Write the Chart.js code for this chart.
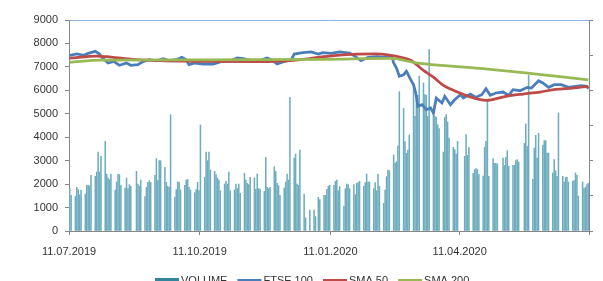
<!DOCTYPE html>
<html>
<head>
<meta charset="utf-8">
<script src="https://cdn.jsdelivr.net/npm/chart.js@4.4.1/dist/chart.umd.min.js"></script>
<style>
html,body{margin:0;padding:0;background:#fff;overflow:hidden}
#wrap{width:603px;height:300px}
</style>
</head>
<body>
<div id="wrap"><canvas id="c" width="603" height="300"></canvas></div>
<script>
'use strict';
// ── DATA ──────────────────────────────────────────────────────
// trading days from 11.07.2019 (day 0) to 10.07.2020, weekends + LSE holidays skipped
const HOLIDAYS = ['2019-08-26','2019-12-25','2019-12-26','2020-01-01','2020-04-10','2020-04-13','2020-05-08','2020-05-25'];

// one value per trading day, one row per week
const volume = [
  1806,1521,
  1479,1863,1763,1550,1749,
  1578,1948,1948,1920,2375,
  2332,2517,3370,2517,3185,
  3825,2432,2261,2190,2432,
  1749,2090,2432,2403,1948,
  1834,2261,1806,1977,1906,
  2545,2005,1906,2176,
  1465,1863,2076,2147,2076,
  2375,3086,2147,3000,3000,
  2716,2076,1906,1863,4963,
  1450,1763,2090,2090,1749,
  1948,2176,2204,1863,1749,
  1635,1763,2076,1720,4520,
  2290,3370,3000,3370,2602,
  2545,2403,2261,2176,1720,
  2005,2119,2005,2517,1720,
  1749,2005,1806,2005,1607,
  2460,2176,2033,1977,2290,
  2261,1777,2432,1806,1777,
  1692,3143,1863,1806,1863,
  2744,2545,2033,1934,1521,
  1834,2090,2432,2176,5702,
  3114,3285,2005,1948,3455,
  1578,555,896,
  896,611,1436,1337,
  1521,1521,1777,1906,1948,
  1948,2119,2176,1720,1891,
  1052,1806,2005,1977,1806,
  1977,1550,2033,2062,2119,
  1906,2062,2432,2090,2090,
  1806,2062,1720,2432,1906,
  1180,1750,2318,2600,2574,
  3242,2887,2958,3626,5944,
  5233,3811,3313,3455,4095,
  6314,4892,5660,5788,6612,
  6314,5816,5788,4892,7736,
  5176,4892,4850,4536,4366,
  3370,4850,4963,4650,3967,
  3570,3470,3285,3825,
  3185,4110,3228,3570,
  2460,2617,2659,2617,2403,
  2346,3570,3825,5532,2332,
  3086,2887,2887,2858,
  3114,2801,3143,3427,2759,
  2801,2801,3000,3043,2944,
  3740,4565,3612,6650,
  2204,3541,4081,3114,4166,
  3655,3854,3854,3327,3327,
  2474,3043,2574,2332,5034,
  2332,2090,2290,2290,2090,
  2119,2147,2474,2375,1493,
  2090,1806,1863,1977,2033
];

const ftseDay = [0,5,10,13,18,21,23,27,31,35,40,43,48,52,56,61,66,70,75,79,82,84,88,94,101,107,113,118,122,127,133,139,142,146,150,156,158,164,170,175,178,184,190,197,201,205,210,216,222,227,228,230,232,235,237,240,242,243,244,245,248,251,254,256,258,262,264,268,271,275,277,282,286,290,293,296,300,305,309,312,317,322,325,330,333,337,341,346,351,356,360,364,365];
const ftse    = [7494,7549,7494,7579,7664,7549,7378,7165,7237,7067,7165,7067,7093,7237,7306,7263,7349,7263,7306,7408,7306,7093,7165,7122,7122,7237,7263,7378,7349,7293,7263,7378,7306,7122,7208,7306,7549,7604,7635,7549,7604,7579,7635,7592,7451,7263,7408,7434,7408,7408,7165,6952,6598,6666,6811,6453,6240,6026,5745,5318,5387,5173,5245,5033,5672,5459,5745,5387,5600,5813,5672,5843,5702,5813,6069,5787,5886,5928,5787,6026,5984,6129,6099,6410,6312,6129,6240,6240,6129,6171,6197,6171,6069];

const sma50Day = [0,19,29,45,64,87,132,155,179,202,215,226,233,240,249,256,263,275,282,293,307,319,331,342,354,365];
const sma50    = [7370,7464,7420,7323,7263,7240,7222,7263,7434,7549,7550,7490,7408,7280,6850,6560,6210,5880,5720,5573,5745,5843,5928,6043,6099,6171];

const sma200Day = [0,22,92,180,226,245,289,319,365];
const sma200    = [7194,7290,7300,7323,7360,7160,6935,6760,6450];

const xTickDay   = [0,92,184,275,366];
const xTickLabel = ['11.07.2019','11.10.2019','11.01.2020','11.04.2020',''];

// ── HELPERS ───────────────────────────────────────────────────
function tradingDays(){
  const out=[], t0=Date.UTC(2019,6,11);
  for(let d=0; d<=365; d++){
    const dt=new Date(t0+d*864e5), wd=dt.getUTCDay();
    if(wd===0||wd===6||HOLIDAYS.includes(dt.toISOString().slice(0,10)))continue;
    out.push(d);
  }
  return out;
}
// Excel centres each date in its day slot
const pts=(days,vals)=>days.map((d,i)=>({x:d+0.5,y:vals[i]}));

const FONT={family:'"Liberation Sans", Arial, sans-serif',size:11};
const AXIS='#868686', TXT='#333';

const legendPlugin={
  id:'bottomLegend',
  afterDraw(chart){
    const ctx=chart.ctx;
    ctx.save();
    ctx.font='11px "Liberation Sans", Arial, sans-serif';
    ctx.textBaseline='middle';
    let x=155; const y=281;
    chart.data.datasets.forEach(ds=>{
      if(ds.type==='bar'){
        ctx.fillStyle='#31859C';
        ctx.fillRect(x,y-3,24,6);
      }else{
        ctx.strokeStyle=ds.borderColor;ctx.lineWidth=2;
        ctx.beginPath();ctx.moveTo(x,y-1);ctx.lineTo(x+24,y-1);ctx.stroke();
      }
      ctx.fillStyle=TXT;
      ctx.fillText(ds.label,x+26,y);
      x+=26+ctx.measureText(ds.label).width+10;
    });
    ctx.restore();
  }
};

const days=tradingDays();

new Chart(document.getElementById('c').getContext('2d'),{
  data:{
    datasets:[
      {type:'bar',label:'VOLUME',data:pts(days,volume),yAxisID:'y2',order:4,
       backgroundColor:'#6fadbe',barThickness:0.9,grouped:false},
      {type:'line',label:'FTSE 100',data:pts(ftseDay,ftse),yAxisID:'y',order:3,
       borderColor:'#4A7EBB',borderWidth:2.75,pointRadius:0,tension:0},
      {type:'line',label:'SMA 50',data:pts(sma50Day,sma50),yAxisID:'y',order:2,
       borderColor:'#BE4B48',borderWidth:2.75,pointRadius:0,cubicInterpolationMode:'monotone'},
      {type:'line',label:'SMA 200',data:pts(sma200Day,sma200),yAxisID:'y',order:1,
       borderColor:'#98B954',borderWidth:2.75,pointRadius:0,cubicInterpolationMode:'monotone'}
    ]
  },
  options:{
    responsive:false,animation:false,
    layout:{padding:0},
    plugins:{legend:{display:false},tooltip:{enabled:false}},
    scales:{
      x:{type:'linear',min:0,max:366,offset:false,
        afterBuildTicks:s=>{s.ticks=xTickDay.map(v=>({value:v}))},
        ticks:{callback:(v,i)=>xTickLabel[i],autoSkip:false,maxRotation:0,font:FONT,color:TXT,padding:10},
        grid:{drawOnChartArea:false,tickLength:4,color:AXIS,offset:false},
        border:{color:AXIS},
        afterFit:s=>{s.height=69}},
      x2:{type:'linear',position:'top',min:0,max:366,offset:false,
        ticks:{display:false},grid:{drawOnChartArea:false,drawTicks:false},
        border:{color:'#8EB4E3'},
        afterFit:s=>{s.height=20}},
      y:{min:0,max:9000,
        ticks:{stepSize:1000,font:FONT,color:TXT,padding:7,callback:v=>String(v)},
        grid:{drawOnChartArea:false,tickLength:4,color:AXIS},
        border:{color:AXIS},
        afterFit:s=>{s.width=69}},
      y2:{position:'right',min:0,max:9000,
        ticks:{stepSize:1500,display:false},
        grid:{drawOnChartArea:false,tickLength:4,color:AXIS},
        border:{color:AXIS},
        afterFit:s=>{s.width=14}}
    }
  },
  plugins:[legendPlugin]
});
</script>
</body>
</html>
